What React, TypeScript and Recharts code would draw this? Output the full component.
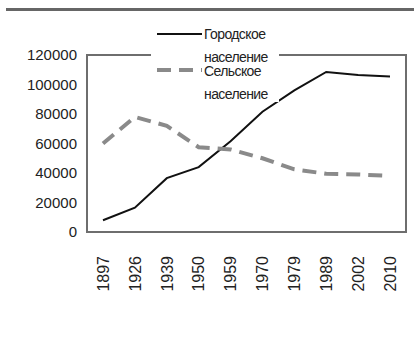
import { Legend, Line, LineChart, XAxis, YAxis } from "recharts";

const years = ["1897", "1926", "1939", "1950", "1959", "1970", "1979", "1989", "2002", "2010"];
const urban = [8000, 16500, 36500, 44000, 61500, 81500, 96000, 108500, 106500, 105500];
const rural = [60000, 78000, 72000, 57500, 56000, 50000, 42500, 39500, 39000, 38000];
const yTicks = [0, 20000, 40000, 60000, 80000, 100000, 120000];

const data = years.map((year, i) => ({ year, urban: urban[i], rural: rural[i] }));

const FONT = "'Liberation Sans', Arial, sans-serif";
const GREY = "#8a8a8a";
const FRAME = "#6e6e6e";
const M = { top: 55, right: 8, left: 0, bottom: 0 };
const Y_WIDTH = 87;
const X_HEIGHT = 119;

function YearTick({ x, y, payload }: any) {
  return (
    <g transform={`translate(${x},${y + 16}) rotate(-90)`}>
      <text x={0} y={0} dy="0.36em" textAnchor="end" fill="#222" fontSize={16} fontFamily={FONT}>
        {payload.value}
      </text>
    </g>
  );
}

function LegendBox() {
  const text = { fontSize: 14, fontFamily: FONT, color: "#222", lineHeight: "13px", letterSpacing: -0.6 };
  return (
    <div style={{ position: "relative", width: 128, height: 76, background: "#fff" }}>
      <svg width={46} height={76} style={{ position: "absolute", left: 6, top: 0 }}>
        <line x1={0} y1={8} x2={45} y2={8} stroke="#111" strokeWidth={2} />
        <line x1={0} y1={44} x2={45} y2={44} stroke={GREY} strokeWidth={4} strokeDasharray="14 8" />
      </svg>
      <div style={{ ...text, position: "absolute", left: 53, top: 2 }}>Городское</div>
      <div style={{ ...text, position: "absolute", left: 53, top: 25 }}>население</div>
      <div style={{ ...text, position: "absolute", left: 53, top: 39 }}>Сельское</div>
      <div style={{ ...text, position: "absolute", left: 53, top: 62 }}>население</div>
    </div>
  );
}

export default function App() {
  const W = 414;
  const H = 351;
  return (
    <div style={{ position: "absolute", left: 0, top: 0, width: W, height: H, background: "#fff" }}>
      <div style={{ position: "absolute", left: 6, top: 8, width: 408, height: 3, background: "#666" }} />
      {/* plot-area frame, under the chart so the legend box covers its top edge */}
      <div
        style={{
          position: "absolute",
          left: M.left + Y_WIDTH - 1,
          top: M.top - 1,
          width: W - M.left - M.right - Y_WIDTH - 2,
          height: H - M.top - M.bottom - X_HEIGHT - 2,
          border: `2px solid ${FRAME}`,
        }}
      />
      <LineChart width={W} height={H} data={data} margin={M} style={{ position: "absolute", left: 0, top: 0 }}>
        <XAxis
          dataKey="year"
          height={X_HEIGHT}
          padding={{ left: 16, right: 16 }}
          tickLine={false}
          axisLine={false}
          interval={0}
          tick={<YearTick />}
        />
        <YAxis
          width={Y_WIDTH}
          domain={[0, 120000]}
          ticks={yTicks}
          tickLine={false}
          axisLine={false}
          tickSize={0}
          tickMargin={10}
          tick={{ fill: "#222", fontSize: 15, fontFamily: FONT }}
        />
        <Legend
          layout="vertical"
          align="center"
          verticalAlign="middle"
          wrapperStyle={{ position: "absolute", left: 151, top: 26, width: 128 }}
          content={() => <LegendBox />}
        />
        <Line dataKey="urban" stroke="#111" strokeWidth={2} dot={false} isAnimationActive={false} />
        <Line dataKey="rural" stroke={GREY} strokeWidth={4} strokeDasharray="14 8" dot={false} isAnimationActive={false} />
      </LineChart>
    </div>
  );
}
